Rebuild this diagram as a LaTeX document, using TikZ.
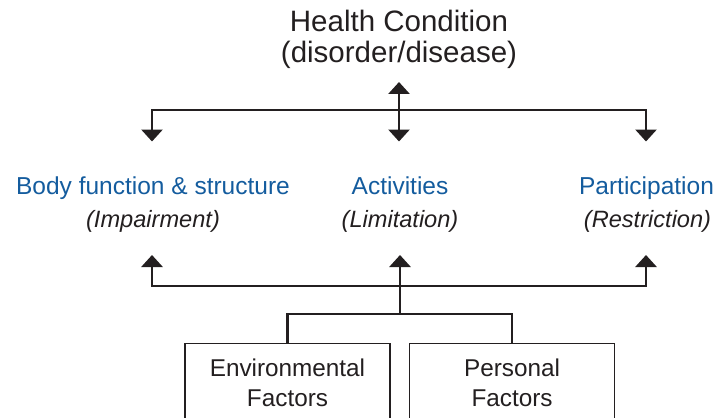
\documentclass[tikz,border=0pt]{standalone}
\usepackage{fontspec}
\setmainfont{Liberation Sans}
\usetikzlibrary{arrows.meta}
\definecolor{ink}{RGB}{35,31,32}
\definecolor{icfblue}{RGB}{20,92,158}
\begin{document}
\begin{tikzpicture}[x=1pt,y=-1pt,
  txt/.style={anchor=base,inner sep=0pt,text=ink},
  head/.style={txt,font=\fontsize{29.5}{32}\selectfont},
  comp/.style={anchor=base,inner sep=0pt,text=icfblue,font=\fontsize{24.5}{28}\selectfont},
  qual/.style={txt,font=\fontsize{23.6}{27}\selectfont\itshape},
  fact/.style={txt,font=\fontsize{24.3}{28}\selectfont},
  factbox/.style={draw=ink,line width=1.3pt,minimum width=205pt,minimum height=90pt,anchor=north,inner sep=0pt},
  link/.style={draw=ink,line width=2.9pt},
  arr/.style={link,-{Triangle[width=21pt,length=12pt]}},
  darr/.style={link,{Triangle[width=21pt,length=12pt]}-{Triangle[width=21pt,length=12pt]}}]
\useasboundingbox (0,0) rectangle (719,417);
\clip (0,0) rectangle (719,417);

% Health condition
\node[head] (hc1) at (399,31.7) {Health Condition};
\node[head] (hc2) at (399,63) {(disorder/disease)};

% Components
\node[comp] (bf) at (153,194.5) {Body function \& structure};
\node[qual] (bfq) at (153,227.5) {(Impairment)};
\node[comp] (ac) at (400,194.5) {Activities};
\node[qual] (acq) at (400,227.5) {(Limitation)};
\node[comp] (pa) at (646.5,194.5) {Participation};
\node[qual] (paq) at (647.5,227.5) {(Restriction)};

% Contextual factors
\node[factbox] (env) at (287.5,343) {};
\node[factbox] (pers) at (512,343) {};
\node[fact] (env1) at (287.5,376.7) {Environmental};
\node[fact] (env2) at (287.5,406.7) {Factors};
\node[fact] (pers1) at (512,376.7) {Personal};
\node[fact] (pers2) at (512,406.7) {Factors};

% connector points
\coordinate (hcTop) at (399,82);
\coordinate (hcBot) at (399,141.5);
\coordinate (hj) at (399,110);
\coordinate (bfIn) at (152,141.5);
\coordinate (paIn) at (646,141.5);
\coordinate (bfOut) at (152,255);
\coordinate (acOut) at (400,255);
\coordinate (paOut) at (646,255);
\coordinate (lj) at (400,286);
\coordinate (fj) at (400,314);

% upper connectors
\draw[darr] (hcTop) -- (hcBot);
\draw[arr] (hj) -| (bfIn);
\draw[arr] (hj) -| (paIn);

% lower connectors
\draw[arr] (fj) -- (acOut);
\draw[arr] (lj) -| (bfOut);
\draw[arr] (lj) -| (paOut);
\draw[link] (env.north) |- (fj) -| (pers.north);
\end{tikzpicture}
\end{document}
